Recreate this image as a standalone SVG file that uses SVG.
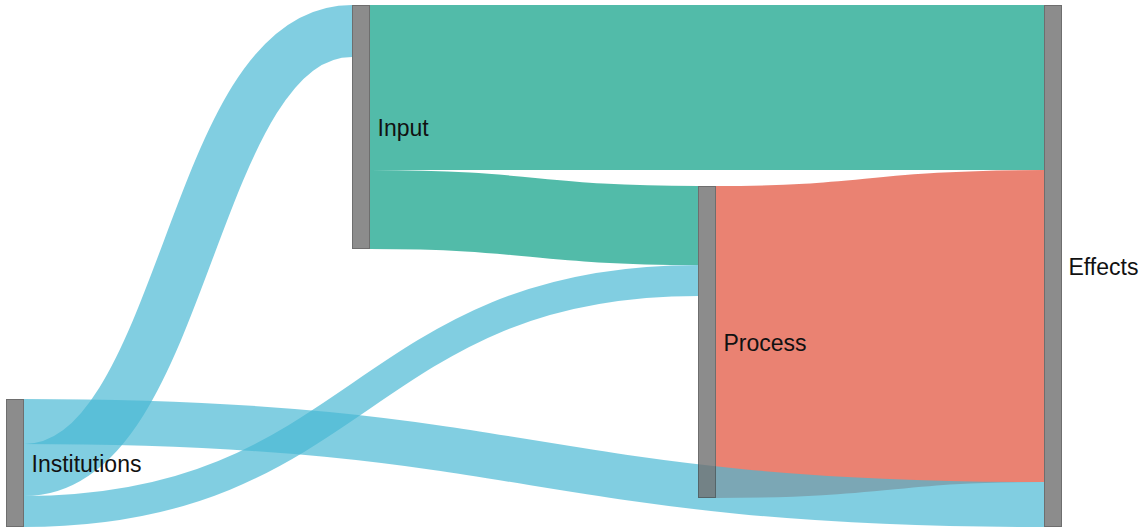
<svg xmlns="http://www.w3.org/2000/svg" width="1141" height="532" viewBox="0 0 1141 532">
  <style>
    .link { fill: none; stroke-opacity: 0.69; }
    .teal { stroke: #049c83; }
    .red { stroke: #e14a33; }
    .blue { stroke: #49b8d3; }
    .node rect { fill: #707070; stroke: #4a4a4a; stroke-width: 1; opacity: 0.8; }
    .node text { font-family: "Liberation Sans", Arial, sans-serif; font-size: 23px; fill: #111; }
  </style>
  <rect width="1141" height="532" fill="#ffffff"/>

  <!-- flows: stroked cubic curves, width = flow size -->
  <g id="links">
    <path class="link teal" stroke-width="165" d="M370,87.5 C707,87.5 707,87.5 1044,87.5"/>
    <path class="link teal" stroke-width="79" d="M370,209.5 C534,209.5 534,225.5 698,225.5"/>
    <path class="link red" stroke-width="312" d="M716,342 C880,342 880,326 1044,326"/>
    <path class="link blue" stroke-width="52" d="M24,470 C188,470 188,31 352,31"/>
    <path class="link blue" stroke-width="31" d="M24,511.5 C361,511.5 361,280.5 698,280.5"/>
    <path class="link blue" stroke-width="45" d="M24,421.5 C534,421.5 534,504.5 1044,504.5"/>
  </g>

  <g id="node-institutions" class="node">
    <rect x="6.5" y="399.5" width="17" height="127"/>
    <text x="31.5" y="471.5">Institutions</text>
  </g>
  <g id="node-input" class="node">
    <rect x="352.5" y="5.5" width="17" height="243"/>
    <text x="377.5" y="135.5">Input</text>
  </g>
  <g id="node-process" class="node">
    <rect x="698.5" y="186.5" width="17" height="311"/>
    <text x="723.5" y="350.5">Process</text>
  </g>
  <g id="node-effects" class="node">
    <rect x="1044.5" y="5.5" width="17" height="521"/>
    <text x="1068.5" y="274.5">Effects</text>
  </g>
</svg>
